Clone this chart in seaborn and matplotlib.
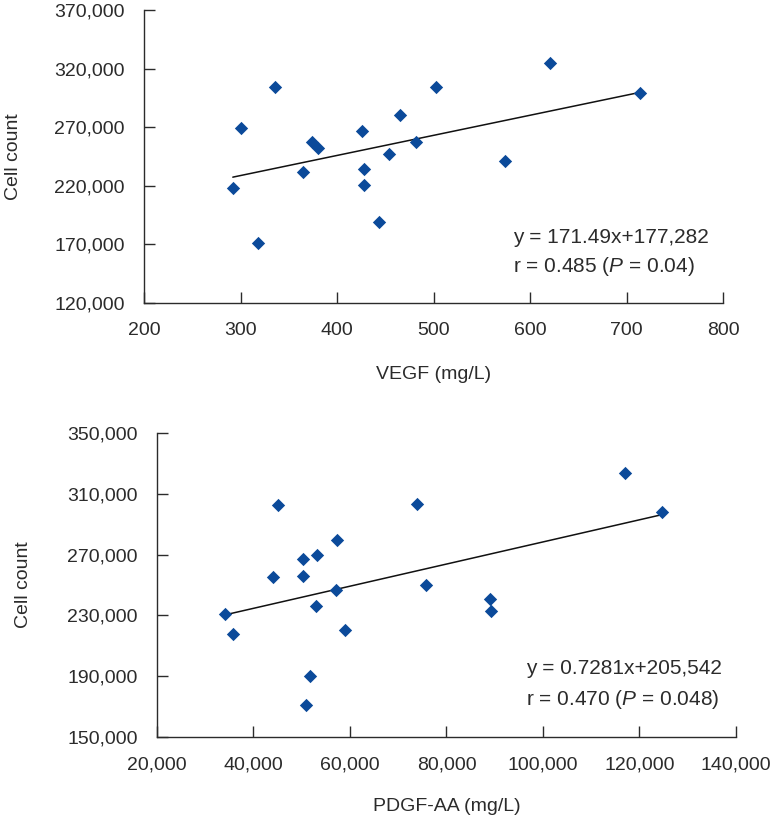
import numpy as np
import pandas as pd
import matplotlib
matplotlib.use('Agg')
import matplotlib.pyplot as plt
from matplotlib.ticker import StrMethodFormatter
import seaborn as sns

sns.set_style('ticks')
plt.rcParams['font.family'] = ['Liberation Sans', 'DejaVu Sans']
plt.rcParams['mathtext.fontset'] = 'custom'
plt.rcParams['mathtext.rm'] = 'Liberation Sans'
plt.rcParams['mathtext.it'] = 'Liberation Sans:italic'

#Data
vegf = [292, 300, 318, 336, 365, 374, 380, 426, 428, 428, 444, 454, 465, 482, 503, 574, 621, 714]
vegf_cells = [218000, 269000, 171000, 304000, 232000, 257000, 252000, 267000, 234000,
              221000, 189000, 247000, 280000, 257000, 304000, 241000, 325000, 299000]
vegf_slope, vegf_icpt = 171.49, 177282

pdgf = [34200, 35800, 44000, 45100, 50300, 50300, 50800, 51800, 53100, 52900,
        57000, 57300, 58900, 73900, 75700, 89100, 89200, 116900, 124700]
pdgf_cells = [231000, 218000, 255500, 302500, 267000, 256000, 171000, 190000, 270000, 236000,
              247000, 279500, 220500, 303000, 250000, 241000, 233000, 324000, 298000]
pdgf_slope, pdgf_icpt = 0.7281, 205542

blue = '#0b4a9a'
grey = '#2b2b2b'
fs = 14

fig = plt.figure(figsize=(7.71, 8.31), dpi=100)
ax1 = fig.add_axes([0.1868, 0.6354, 0.751, 0.3526])
ax2 = fig.add_axes([0.2036, 0.1131, 0.751, 0.3658])

def panel(ax, x, y, slope, icpt, xlab, xlim, xstep, ylim, ystep, eq, rtxt, lx, ly):
    df = pd.DataFrame({'x': x, 'y': y})
    sns.scatterplot(data=df, x='x', y='y', ax=ax, marker='D', s=46, color=blue,
                    linewidth=0, zorder=3)
    # fitted line from the printed equation
    fit = pd.DataFrame({'x': [min(x), max(x)]})
    fit['y'] = slope * fit['x'] + icpt
    sns.lineplot(data=fit, x='x', y='y', ax=ax, color='#111111', linewidth=1.1, zorder=2)
    ax.set_xlim(*xlim)
    ax.set_ylim(*ylim)
    ax.set_xticks(np.arange(xlim[0], xlim[1] + 1, xstep))
    ax.set_yticks(np.arange(ylim[0], ylim[1] + 1, ystep))
    ax.xaxis.set_major_formatter(StrMethodFormatter('{x:,.0f}'))
    ax.yaxis.set_major_formatter(StrMethodFormatter('{x:,.0f}'))
    ax.tick_params(direction='in', length=8, width=1, color=grey, labelsize=fs,
                   labelcolor=grey, pad=14)
    sns.despine(ax=ax)
    for s in ['left', 'bottom']:
        ax.spines[s].set_color(grey)
        ax.spines[s].set_linewidth(1.0)
    ax.set_xlabel(xlab, fontsize=fs, color=grey)
    ax.set_ylabel('Cell count', fontsize=fs, color=grey)
    ax.xaxis.set_label_coords(0.5, lx)
    ax.yaxis.set_label_coords(ly, 0.5)
    ax.text(0.637, 0.225, eq, transform=ax.transAxes, fontsize=fs + 1, color=grey,
            ha='left', va='center')
    ax.text(0.637, 0.125, rtxt, transform=ax.transAxes, fontsize=fs + 1, color=grey,
            ha='left', va='center')

panel(ax1, vegf, vegf_cells, vegf_slope, vegf_icpt, 'VEGF (mg/L)', (200, 800), 100,
      (120000, 370000), 50000, 'y = 171.49x+177,282', r'r = 0.485 ($P$ = 0.04)', -0.215, -0.21)
panel(ax2, pdgf, pdgf_cells, pdgf_slope, pdgf_icpt, 'PDGF-AA (mg/L)', (20000, 140000), 20000,
      (150000, 350000), 40000, 'y = 0.7281x+205,542', r'r = 0.470 ($P$ = 0.048)', -0.2, -0.215)

plt.savefig('out.png', dpi=100)
